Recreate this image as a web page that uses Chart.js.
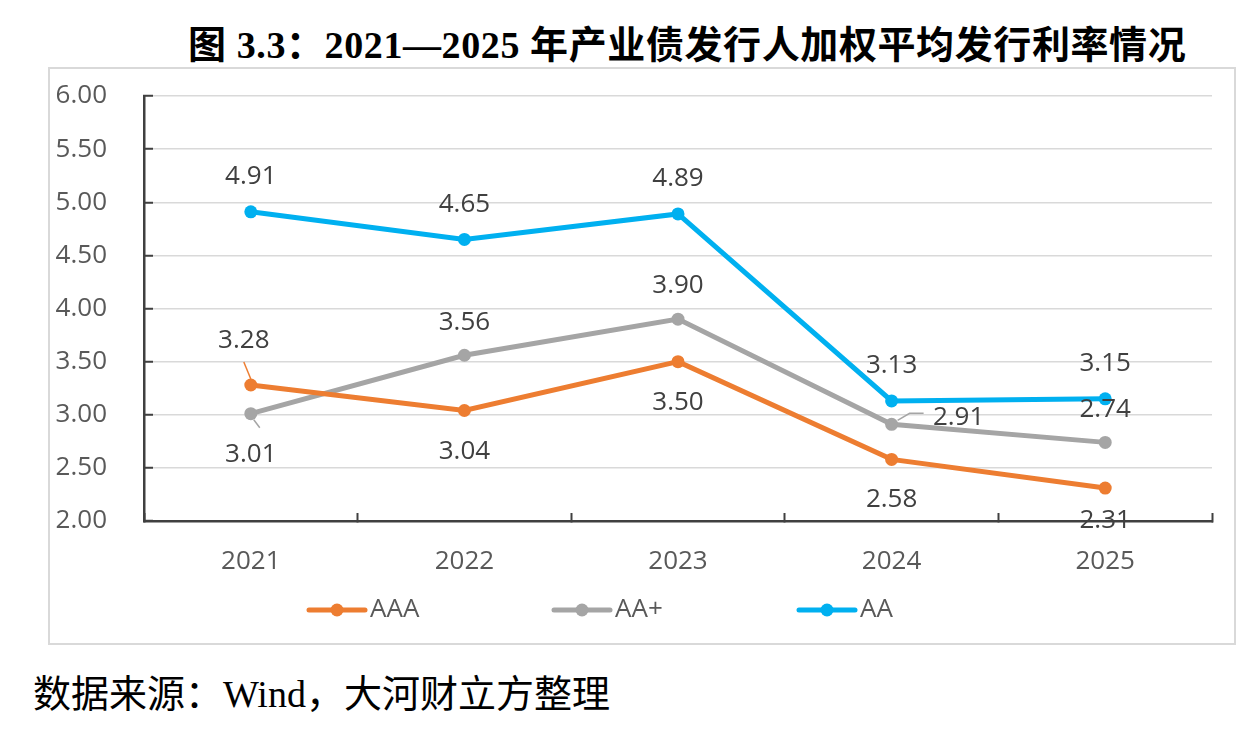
<!DOCTYPE html>
<html>
<head>
<meta charset="utf-8">
<script src="https://cdn.jsdelivr.net/npm/chart.js@4.4.0/dist/chart.umd.min.js"></script>
<style>
  html, body { margin:0; padding:0; background:#fff; width:1254px; height:740px; overflow:hidden; }
  #title { position:absolute; left:188px; top:21px; font-family:'Liberation Serif','Noto Sans CJK SC',serif; font-weight:bold; font-size:38px; letter-spacing:0.6px; line-height:48px; white-space:nowrap; color:#000; }
  #frame { position:absolute; left:48px; top:67px; width:1184px; height:574px; border:2px solid #d9d9d9; }
  #frame canvas { display:block; }
  #footer { position:absolute; left:33px; top:670px; font-family:'Liberation Serif','Noto Sans CJK SC',serif; font-size:38px; line-height:48px; white-space:nowrap; color:#000; }
</style>
</head>
<body>
<div id="title">图 3.3：2021—2025 年产业债发行人加权平均发行利率情况</div>
<div id="frame"><canvas id="c" width="1184" height="574"></canvas></div>
<div id="footer">数据来源：Wind，大河财立方整理</div>
<script>
// ---- data ----
const categories = ['2021', '2022', '2023', '2024', '2025'];
const seriesNames = ['AAA', 'AA+', 'AA'];
const aaaValues = [3.28, 3.04, 3.50, 2.58, 2.31];
const aaPlusValues = [3.01, 3.56, 3.90, 2.91, 2.74];
const aaValues = [4.91, 4.65, 4.89, 3.13, 3.15];
const yTickMin = 2.00;
const yTickMax = 6.00;
const yTickStep = 0.50;

// ---- styles ----
const colors = ['#ED7D31', '#A5A5A5', '#00B0F0'];
const FONT = "'Open Sans', 'Noto Sans', sans-serif";

// label placement (pixel offsets relative to point, style only)
const labelPlacement = [
  [ {dx:-7, dy:-44, leader:[[0,-6],[-7,-23]]}, {dx:0, dy:41}, {dx:0, dy:41}, {dx:0, dy:40}, {dx:0, dy:33} ],
  [ {dx:0, dy:41, leader:[[3,6],[9,14]]}, {dx:0, dy:-33}, {dx:0, dy:-34}, {dx:67, dy:-7, leader:[[6,-4],[18,-11],[32,-11]]}, {dx:0, dy:-33} ],
  [ {dx:0, dy:-35}, {dx:0, dy:-35}, {dx:0, dy:-35}, {dx:0, dy:-35}, {dx:0, dy:-35} ]
];

const dataLabelPlugin = {
  id: 'dataLabels',
  afterDatasetsDraw(chart) {
    const ctx = chart.ctx;
    ctx.save();
    chart.data.datasets.forEach((ds, di) => {
      const meta = chart.getDatasetMeta(di);
      meta.data.forEach((pt, i) => {
        const p = labelPlacement[di][i];
        if (p.leader) {
          ctx.beginPath();
          ctx.strokeStyle = ds.borderColor;
          ctx.lineWidth = 1.5;
          p.leader.forEach((q, k) => {
            if (k === 0) ctx.moveTo(pt.x + q[0], pt.y + q[1]);
            else ctx.lineTo(pt.x + q[0], pt.y + q[1]);
          });
          ctx.stroke();
        }
      });
    });
    chart.data.datasets.forEach((ds, di) => {
      const meta = chart.getDatasetMeta(di);
      meta.data.forEach((pt, i) => {
        const p = labelPlacement[di][i];
        ctx.font = '26px ' + FONT;
        ctx.fillStyle = '#404040';
        ctx.textAlign = 'center';
        ctx.textBaseline = 'middle';
        ctx.fillText(ds.data[i].toFixed(2), pt.x + p.dx, pt.y + p.dy);
      });
    });
    ctx.restore();
  }
};

const legendPlugin = {
  id: 'lineLegend',
  afterDraw(chart) {
    const ctx = chart.ctx;
    const startX = 257, step = 245, y = 541, len = 58;
    ctx.save();
    chart.data.datasets.forEach((ds, i) => {
      const x = startX + i * step;
      ctx.beginPath();
      ctx.strokeStyle = ds.borderColor;
      ctx.lineWidth = 5;
      ctx.lineCap = 'round';
      ctx.moveTo(x + 2, y);
      ctx.lineTo(x + len, y);
      ctx.stroke();
      ctx.beginPath();
      ctx.fillStyle = ds.borderColor;
      ctx.arc(x + len / 2 + 1, y, 6.5, 0, Math.PI * 2);
      ctx.fill();
      ctx.font = '26px ' + FONT;
      ctx.fillStyle = '#595959';
      ctx.textAlign = 'left';
      ctx.textBaseline = 'middle';
      ctx.fillText(ds.label, x + len + 5, y);
    });
    ctx.restore();
  }
};

const seriesValues = [aaaValues, aaPlusValues, aaValues];
const datasets = seriesNames.map((name, i) => ({
  label: name,
  data: seriesValues[i],
  borderColor: colors[i],
  backgroundColor: colors[i],
  borderWidth: 5,
  pointRadius: 6.5,
  pointHoverRadius: 6.5,
  pointBorderWidth: 0,
  pointBackgroundColor: colors[i],
  tension: 0,
  fill: false
}));

new Chart(document.getElementById('c'), {
  type: 'line',
  data: { labels: categories, datasets },
  plugins: [dataLabelPlugin, legendPlugin],
  options: {
    responsive: false,
    animation: false,
    devicePixelRatio: 1,
    layout: { padding: { left: 0, top: 27, right: 22, bottom: 68 } },
    plugins: { legend: { display: false }, tooltip: { enabled: false } },
    scales: {
      x: {
        type: 'category',
        offset: true,
        afterFit(scale) { scale.height = 54; },
        grid: { display: true, drawOnChartArea: false, drawTicks: true, offset: true, tickLength: -8, tickColor: '#404040', tickWidth: 2, color: '#404040' },
        border: { display: true, color: '#404040', width: 2.5 },
        ticks: { color: '#595959', font: { family: FONT, size: 26 }, padding: 33, maxRotation: 0 }
      },
      y: {
        min: yTickMin,
        max: yTickMax,
        afterFit(scale) { scale.width = 94; scale.paddingTop = 14; scale.paddingBottom = 14; },
        grid: { color: '#d9d9d9', lineWidth: 1.5, drawTicks: true, tickLength: -9, tickColor: '#404040', tickWidth: 2 },
        border: { display: true, color: '#404040', width: 2.5 },
        ticks: {
          stepSize: yTickStep,
          color: '#595959',
          font: { family: FONT, size: 26 },
          padding: 46,
          callback: v => Number(v).toFixed(2)
        }
      }
    }
  }
});
</script>
</body>
</html>
